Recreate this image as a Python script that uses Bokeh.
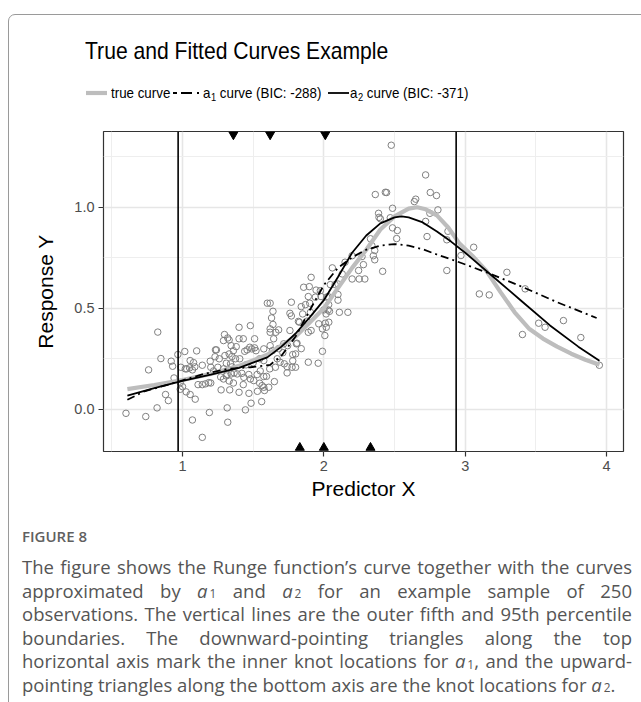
from bokeh.plotting import figure
from bokeh.models import (Span, FixedTicker, Div, Range1d, NumeralTickFormatter)
from bokeh.layouts import column
from bokeh.embed import file_html
from bokeh.resources import INLINE

# ---------------- data ----------------
obs_x = [0.60, 0.74, 0.82, 0.76, 0.825, 0.847, 0.88, 0.90, 0.92, 0.93, 0.94, 0.967, 0.984, 0.984,
         0.988, 1.00, 1.016, 1.02, 1.026, 1.05, 1.054, 1.054, 1.07, 1.078, 1.07, 1.09, 1.10, 1.11,
         1.14, 1.14, 1.14, 1.163, 1.186, 1.19, 1.196, 1.20, 1.22, 1.233, 1.087, 1.03,
         1.297, 1.32, 1.29, 1.33, 1.40, 1.43, 1.51, 1.645, 1.24, 1.344, 1.36, 1.44, 1.457, 1.476,
         1.49, 1.51, 1.52, 1.575, 1.62, 1.636, 1.716, 1.744, 1.806, 1.35, 1.375, 1.405, 1.31, 1.34,
         1.29, 1.546, 1.575, 1.67, 1.69, 1.72, 1.78, 1.25, 1.316, 1.344, 1.387, 1.42, 1.434, 1.469,
         1.48, 1.528, 1.575, 1.617, 1.657, 1.74, 1.775, 1.504, 1.594, 1.65, 1.273, 1.334, 1.40,
         1.47, 1.43, 1.546, 1.563, 1.575, 1.61, 1.316, 1.445, 1.485, 1.56, 1.32,
         1.60, 1.62, 1.77, 1.64, 1.63, 1.76, 1.77, 1.82, 1.40, 1.48, 1.62, 1.62, 1.68, 1.66, 1.76,
         1.53, 1.58, 1.29, 1.31, 1.33, 1.36, 1.30, 1.33, 1.365, 1.20, 1.27, 1.35, 1.23, 1.45,
         1.26, 1.38, 1.50, 1.55, 1.68, 1.71, 1.74, 1.78, 1.64, 1.84,
         1.91, 1.857, 1.897, 1.945, 1.89, 1.94, 1.98, 2.03, 1.84, 1.87, 1.90, 1.85, 1.905, 2.034,
         2.016, 2.04, 1.827, 1.88, 1.964, 2.01, 2.035, 1.89, 1.91, 1.99, 2.007, 2.017, 1.81, 1.99,
         1.89, 1.96, 1.80, 1.80, 1.975, 2.046, 2.02, 2.00, 2.03,
         2.364, 2.435, 2.387, 2.39, 2.40, 2.33, 2.34, 2.36, 2.35, 2.36, 2.416, 2.27, 2.28, 2.246,
         2.20, 2.25, 2.29, 2.20, 2.15, 2.06, 2.13, 2.08, 2.10, 2.10, 2.10, 2.11, 2.17,
         2.477, 2.72, 2.753, 2.797, 2.444, 2.64, 2.65, 2.486, 2.807, 2.47, 2.75, 2.72, 2.486, 2.52,
         2.515, 2.73, 2.878, 2.87, 2.87, 3.06, 2.97, 3.10, 3.17, 3.295, 3.424, 3.405, 3.52, 3.565,
         3.695, 3.818, 3.949]
obs_y = [-0.02, -0.036, 0.007, 0.195, 0.382, 0.251, 0.073, 0.043, 0.238, 0.213, 0.155, 0.271, 0.132, 0.099,
         0.208, 0.112, 0.286, 0.20, 0.086, 0.205, 0.241, 0.073, 0.195, 0.231, -0.053, 0.05, 0.289, 0.122,
         0.122, 0.218, -0.139, 0.126, 0.132, -0.016, 0.238, 0.208, 0.19, 0.294, 0.21, 0.20,
         0.370, 0.353, 0.34, 0.343, 0.349, 0.349, 0.349, 0.349, 0.294, 0.315, 0.29, 0.287, 0.294, 0.307,
         0.299, 0.304, 0.29, 0.299, 0.315, 0.29, 0.324, 0.315, 0.324, 0.261, 0.25, 0.25, 0.228, 0.225,
         0.20, 0.25, 0.241, 0.25, 0.233, 0.225, 0.271, 0.208, 0.172, 0.175, 0.175, 0.178, 0.158, 0.172,
         0.15, 0.172, 0.162, 0.20, 0.208, 0.211, 0.208, 0.142, 0.163, 0.137, 0.096, 0.096, 0.084,
         0.079, 0.122, 0.129, 0.117, 0.109, 0.109, 0.007, -0.003, 0.03, 0.038, -0.064,
         0.525, 0.525, 0.53, 0.485, 0.452, 0.475, 0.462, 0.435, 0.406, 0.414, 0.398, 0.381, 0.393, 0.381, 0.39,
         0.089, 0.093, 0.15, 0.165, 0.14, 0.13, 0.266, 0.274, 0.18, 0.13, 0.16, 0.21, 0.26, 0.22,
         0.25, 0.31, 0.23, 0.19, 0.30, 0.28, 0.18, 0.24, 0.42, 0.30,
         0.653, 0.604, 0.607, 0.59, 0.558, 0.555, 0.558, 0.558, 0.508, 0.518, 0.525, 0.472, 0.48, 0.518,
         0.472, 0.485, 0.431, 0.436, 0.423, 0.426, 0.431, 0.381, 0.39, 0.398, 0.365, 0.406, 0.327, 0.287,
         0.233, 0.228, 0.274, 0.208, 0.587, 0.617, 0.555, 0.492, 0.492,
         1.063, 1.074, 0.970, 0.95, 0.943, 0.844, 0.81, 0.786, 0.76, 0.74, 0.683, 0.756, 0.716, 0.687,
         0.645, 0.645, 0.645, 0.76, 0.728, 0.70, 0.67, 0.617, 0.62, 0.568, 0.54, 0.48, 0.48,
         1.307, 1.16, 1.073, 1.058, 1.073, 1.028, 1.04, 0.995, 0.987, 0.948, 0.97, 0.93, 0.898, 0.885,
         0.845, 0.855, 0.881, 0.839, 0.687, 0.802, 0.761, 0.571, 0.566, 0.678, 0.596, 0.37, 0.426, 0.406,
         0.439, 0.355, 0.218]

true_x = [0.61, 0.8, 1.0, 1.2, 1.4, 1.6, 1.8, 1.9, 2.0, 2.1, 2.2, 2.3, 2.4, 2.5, 2.6, 2.66, 2.72,
          2.8, 2.88, 2.96, 3.05, 3.15, 3.25, 3.35, 3.45, 3.55, 3.65, 3.75, 3.85, 3.95]
true_y = [0.10, 0.12, 0.145, 0.175, 0.215, 0.27, 0.36, 0.43, 0.50, 0.60, 0.70, 0.79, 0.89, 0.955,
          0.993, 1.0, 0.99, 0.96, 0.90, 0.82, 0.76, 0.685, 0.58, 0.48, 0.40, 0.35, 0.31, 0.275, 0.245, 0.22]

a1_x = [0.61, 0.73, 0.96, 1.15, 1.32, 1.48, 1.62, 1.7, 1.8, 1.9, 2.0, 2.1, 2.2, 2.3, 2.4, 2.5,
        2.6, 2.7, 2.8, 2.93, 3.18, 3.41, 3.65, 3.93]
a1_y = [0.047, 0.089, 0.134, 0.175, 0.20, 0.208, 0.22, 0.265, 0.36, 0.49, 0.615, 0.70, 0.752, 0.79,
        0.81, 0.818, 0.81, 0.792, 0.766, 0.735, 0.67, 0.604, 0.53, 0.452]

a2_x = [0.61, 0.8, 1.0, 1.2, 1.4, 1.6, 1.7, 1.8, 1.9, 2.0, 2.1, 2.2, 2.3, 2.4, 2.5, 2.55, 2.6,
        2.7, 2.8, 2.9, 3.0, 3.1, 3.2, 3.4, 3.6, 3.8, 3.95]
a2_y = [0.068, 0.105, 0.14, 0.172, 0.205, 0.257, 0.31, 0.375, 0.455, 0.54, 0.655, 0.775, 0.86,
        0.92, 0.95, 0.955, 0.95, 0.925, 0.88, 0.83, 0.775, 0.715, 0.655, 0.535, 0.415, 0.31, 0.24]

boundaries = [0.969, 2.936]          # 5th and 95th percentiles
a1_knots = [1.36, 1.62, 2.01]        # inner knots of a1 (top, downward triangles)
a2_knots = [1.83, 2.00, 2.33]        # knots of a2 (bottom, upward triangles)
knot_top_y = 1.36
knot_bottom_y = -0.19

x_ticks = [1, 2, 3, 4]
x_minor = [0.5, 1.5, 2.5, 3.5]
y_ticks = [0.0, 0.5, 1.0]
y_minor = [-0.25, 0.25, 0.75, 1.25]

title_text = "True and Fitted Curves Example"
legend_labels = ["true curve", "a<sub>1</sub> curve (BIC: -288)", "a<sub>2</sub> curve (BIC: -371)"]

FONT = "Liberation Sans"
GREY = "#bdbdbd"

# ---------------- header: title + legend ----------------
HDR_H = 115
sub_css = "font-size:70%;vertical-align:-0.28em;line-height:1;margin-left:0.5px;"
key_svgs = [
    f'<svg width="21" height="16"><line x1="0" y1="8" x2="21" y2="8" stroke="{GREY}" stroke-width="4.2"/></svg>',
    '<svg width="28" height="16"><line x1="0" y1="8" x2="28" y2="8" stroke="black" stroke-width="1.8" '
    'stroke-dasharray="4 4 11 5 2 10"/></svg>',
    '<svg width="21" height="16"><line x1="0" y1="8" x2="21" y2="8" stroke="black" stroke-width="1.8"/></svg>',
]
key_left = [86, 173, 328]
text_left = [111, 203, 350]
legend_html = ""
for kx, tx, svg, lab in zip(key_left, text_left, key_svgs, legend_labels):
    lab = lab.replace("<sub>", f'<sub style="{sub_css}">')
    legend_html += f'<div style="position:absolute;left:{kx}px;top:85px;height:16px;">{svg}</div>'
    legend_html += (f'<div style="position:absolute;left:{tx}px;top:84px;height:18px;line-height:18px;'
                    f'font-size:14.5px;color:black;white-space:nowrap;transform:scaleX(0.92);'
                    f'transform-origin:0 0;">{lab}</div>')

hdr_html = f'''<div style="position:relative;width:641px;height:{HDR_H}px;font-family:'{FONT}',Arial,sans-serif;">
<div style="position:absolute;left:85px;top:37px;font-size:24px;line-height:28px;color:black;white-space:nowrap;
transform:scaleX(0.88);transform-origin:0 0;">{title_text}</div>
{legend_html}</div>'''
hdr = Div(text=hdr_html, width=641, height=HDR_H, margin=0)

# ---------------- main plot ----------------
p = figure(width=641, height=525 - HDR_H, x_range=Range1d(0.441, 4.12), y_range=Range1d(-0.209, 1.375),
           output_backend="svg", toolbar_location=None,
           min_border_left=103, min_border_right=18, min_border_top=131 - HDR_H, min_border_bottom=74)
p.background_fill_color = "white"
p.border_fill_color = "white"
p.outline_line_color = "#333333"
p.outline_line_width = 1.2

xt = FixedTicker(ticks=x_ticks, minor_ticks=x_minor)
yt = FixedTicker(ticks=y_ticks, minor_ticks=y_minor)
p.xaxis.ticker = xt
p.xgrid.ticker = xt
p.yaxis.ticker = yt
p.ygrid.ticker = yt
for g in (p.xgrid, p.ygrid):
    g.grid_line_color = "#e6e6e6"
    g.grid_line_width = 1.6
    g.minor_grid_line_color = "#eeeeee"
    g.minor_grid_line_width = 1.0
p.yaxis.formatter = NumeralTickFormatter(format="0.0")

for ax in (p.xaxis, p.yaxis):
    ax.axis_line_color = None
    ax.major_tick_line_color = "#333333"
    ax.major_tick_line_width = 1.2
    ax.major_tick_out = 5
    ax.major_tick_in = 0
    ax.minor_tick_line_color = None
    ax.major_label_text_font = FONT
    ax.major_label_text_font_size = "14.5px"
    ax.major_label_text_color = "#4d4d4d"
    ax.major_label_standoff = 4
    ax.axis_label_text_font = FONT
    ax.axis_label_text_font_size = "21px"
    ax.axis_label_text_font_style = "normal"
    ax.axis_label_text_color = "black"
p.xaxis.axis_label = "Predictor X"
p.xaxis.axis_label_standoff = 3
p.yaxis.axis_label = "Response Y"
p.yaxis.axis_label_standoff = 14

p.scatter(obs_x, obs_y, marker="circle", size=6.5, fill_color=None,
          line_color="#808080", line_width=1)

p.line(true_x, true_y, line_color=GREY, line_width=4.2)
p.line(a1_x, a1_y, line_color="black", line_width=1.8, line_dash="8 4 2 4")
p.line(a2_x, a2_y, line_color="black", line_width=1.8)

for b in boundaries:
    p.add_layout(Span(location=b, dimension="height", line_color="black", line_width=1.6))

p.scatter(a1_knots, [knot_top_y] * len(a1_knots), marker="inverted_triangle", size=9, color="black")
p.scatter(a2_knots, [knot_bottom_y] * len(a2_knots), marker="triangle", size=9, color="black")

# ---------------- caption ----------------
sub = ('<i style="display:inline-block;line-height:18px;">a</i>'
       '<span style="display:inline-block;margin-left:2px;font-size:64%;'
       'vertical-align:-0.5px;line-height:11px;">{}</span>')
lines = [
    "The figure shows the Runge function\u2019s curve together with the curves",
    "approximated by " + sub.format(1) + " and " + sub.format(2) + " for an example sample of 250",
    "observations. The vertical lines are the outer fifth and 95th percentile",
    "boundaries. The downward-pointing triangles along the top",
    "horizontal axis mark the inner knot locations for " + sub.format(1) + ", and the upward-",
    "pointing triangles along the bottom axis are the knot locations for " + sub.format(2) + ".",
]
line_divs = ""
for i, t in enumerate(lines):
    last = "left" if i == len(lines) - 1 else "justify"
    line_divs += (f'<div style="white-space:nowrap;text-align:justify;text-align-last:{last};'
                  f'height:23.6px;line-height:23.6px;">{t}</div>')

cap_html = f'''<div style="position:relative;width:641px;height:177px;font-family:'Open Sans',sans-serif;">
<div style="position:absolute;left:8px;top:-511px;width:720px;height:900px;border:1px solid #9a9a9a;
border-radius:7px;box-sizing:border-box;pointer-events:none;"></div>
<div style="position:absolute;left:22px;top:2px;font-size:15px;font-weight:600;color:#606060;
line-height:18px;">FIGURE 8</div>
<div style="position:absolute;left:22px;top:30px;width:610px;font-size:18.5px;color:#555555;">
{line_divs}</div></div>'''
cap = Div(text=cap_html, width=641, height=177, margin=0)

layout = column(hdr, p, cap, spacing=0)
open("out.html", "w").write(file_html(layout, INLINE))
